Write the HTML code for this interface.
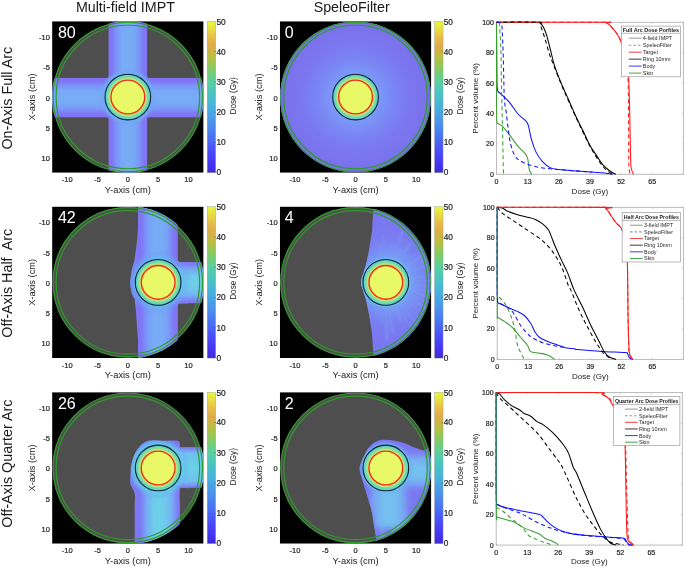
<!DOCTYPE html>
<html><head><meta charset="utf-8"><title>Dose comparison</title>
<style>html,body{margin:0;padding:0;background:#fff;}svg{display:block;will-change:transform;font-family:'Liberation Sans', sans-serif;}.t{stroke:#1a1a1a;stroke-width:0.18px;}</style>
</head><body>
<svg width="685" height="567" viewBox="0 0 685 567" fill="#1a1a1a">
<rect width="685" height="567" fill="#fff"/>
<defs><linearGradient id="cb" x1="0" y1="1" x2="0" y2="0"><stop offset="0" stop-color="#3c2cd0"/><stop offset="0.05" stop-color="#4632f2"/><stop offset="0.14" stop-color="#4a4cf8"/><stop offset="0.22" stop-color="#4a6cf4"/><stop offset="0.32" stop-color="#4a90ee"/><stop offset="0.42" stop-color="#48aee0"/><stop offset="0.52" stop-color="#48c4c4"/><stop offset="0.6" stop-color="#58d0a0"/><stop offset="0.68" stop-color="#80cc68"/><stop offset="0.76" stop-color="#b8c040"/><stop offset="0.84" stop-color="#e0ac48"/><stop offset="0.9" stop-color="#e8c048"/><stop offset="0.96" stop-color="#e8e440"/><stop offset="1" stop-color="#e8f840"/></linearGradient><linearGradient id="beamV" x1="0" y1="0" x2="1" y2="0"><stop offset="0" stop-color="#8270f4"/><stop offset="0.1" stop-color="#8078f6"/><stop offset="0.22" stop-color="#7a98f8"/><stop offset="0.34" stop-color="#78a8f8"/><stop offset="0.5" stop-color="#78aef4"/><stop offset="0.66" stop-color="#78a8f8"/><stop offset="0.78" stop-color="#7a98f8"/><stop offset="0.9" stop-color="#8078f6"/><stop offset="1" stop-color="#8270f4"/></linearGradient><linearGradient id="beamH" x1="0" y1="0" x2="0" y2="1"><stop offset="0" stop-color="#8270f4"/><stop offset="0.1" stop-color="#8078f6"/><stop offset="0.22" stop-color="#7a98f8"/><stop offset="0.34" stop-color="#78a8f8"/><stop offset="0.5" stop-color="#78aef4"/><stop offset="0.66" stop-color="#78a8f8"/><stop offset="0.78" stop-color="#7a98f8"/><stop offset="0.9" stop-color="#8078f6"/><stop offset="1" stop-color="#8270f4"/></linearGradient><linearGradient id="armV" x1="0" y1="0" x2="1" y2="0"><stop offset="0" stop-color="#8270f4"/><stop offset="0.08" stop-color="#7c86f6"/><stop offset="0.2" stop-color="#76b0f4"/><stop offset="0.35" stop-color="#70c8ec"/><stop offset="0.5" stop-color="#6cd2e8"/><stop offset="0.65" stop-color="#70c8ec"/><stop offset="0.8" stop-color="#76b0f4"/><stop offset="0.92" stop-color="#7c86f6"/><stop offset="1" stop-color="#8270f4"/></linearGradient><linearGradient id="armH" x1="0" y1="0" x2="0" y2="1"><stop offset="0" stop-color="#8270f4"/><stop offset="0.08" stop-color="#7c86f6"/><stop offset="0.2" stop-color="#76b0f4"/><stop offset="0.35" stop-color="#70c8ec"/><stop offset="0.5" stop-color="#6cd2e8"/><stop offset="0.65" stop-color="#70c8ec"/><stop offset="0.8" stop-color="#76b0f4"/><stop offset="0.92" stop-color="#7c86f6"/><stop offset="1" stop-color="#8270f4"/></linearGradient><radialGradient id="tglow" cx="0.5" cy="0.5" r="0.5"><stop offset="0" stop-color="#5cd0e0" stop-opacity="1"/><stop offset="0.72" stop-color="#5cd0e0" stop-opacity="1"/><stop offset="0.86" stop-color="#68c0f0" stop-opacity="0.7"/><stop offset="1" stop-color="#7898f6" stop-opacity="0"/></radialGradient><linearGradient id="armV2" x1="0" y1="0" x2="1" y2="0"><stop offset="0" stop-color="#8070f2"/><stop offset="0.06" stop-color="#7a90f6"/><stop offset="0.16" stop-color="#70c0f0"/><stop offset="0.5" stop-color="#68d2e6"/><stop offset="0.84" stop-color="#70c0f0"/><stop offset="0.94" stop-color="#7a90f6"/><stop offset="1" stop-color="#8070f2"/></linearGradient><linearGradient id="armH2" x1="0" y1="0" x2="0" y2="1"><stop offset="0" stop-color="#8070f2"/><stop offset="0.06" stop-color="#7a90f6"/><stop offset="0.16" stop-color="#70c0f0"/><stop offset="0.5" stop-color="#68d2e6"/><stop offset="0.84" stop-color="#70c0f0"/><stop offset="0.94" stop-color="#7a90f6"/><stop offset="1" stop-color="#8070f2"/></linearGradient><radialGradient id="tgt" cx="0.5" cy="0.5" r="0.5"><stop offset="0" stop-color="#e8f866"/><stop offset="0.74" stop-color="#e8f866"/><stop offset="0.78" stop-color="#c4ec6c"/><stop offset="0.85" stop-color="#90e092"/><stop offset="0.92" stop-color="#66d4c2"/><stop offset="1" stop-color="#58ccd8"/></radialGradient><radialGradient id="spf" cx="0.5" cy="0.5" r="0.5"><stop offset="0" stop-color="#78a4f8"/><stop offset="0.3" stop-color="#7a9af8"/><stop offset="0.5" stop-color="#7a86f4"/><stop offset="0.7" stop-color="#7a78f0"/><stop offset="1" stop-color="#7a70ec"/></radialGradient><radialGradient id="glow" cx="0.5" cy="0.5" r="0.5"><stop offset="0" stop-color="#50d0e0" stop-opacity="1"/><stop offset="0.62" stop-color="#58c8e8" stop-opacity="0.9"/><stop offset="0.8" stop-color="#64b0f4" stop-opacity="0.5"/><stop offset="1" stop-color="#7a86f6" stop-opacity="0"/></radialGradient><radialGradient id="glow2" cx="0.5" cy="0.5" r="0.5"><stop offset="0" stop-color="#6cc4f2" stop-opacity="0.95"/><stop offset="0.4" stop-color="#70b0f6" stop-opacity="0.7"/><stop offset="0.7" stop-color="#7898f6" stop-opacity="0.3"/><stop offset="1" stop-color="#7a86f6" stop-opacity="0"/></radialGradient><filter id="bl" x="-20%" y="-20%" width="140%" height="140%"><feGaussianBlur stdDeviation="1.2"/></filter><filter id="bl2" x="-20%" y="-20%" width="140%" height="140%"><feGaussianBlur stdDeviation="3"/></filter><clipPath id="body00"><circle cx="127.85" cy="97" r="75.2"/></clipPath><clipPath id="img00"><rect x="52.1" y="21.25" width="151.5" height="151.5"/></clipPath><clipPath id="body01"><circle cx="127.85" cy="282.35" r="75.2"/></clipPath><clipPath id="img01"><rect x="52.1" y="206.6" width="151.5" height="151.5"/></clipPath><clipPath id="body02"><circle cx="127.85" cy="467.95" r="75.2"/></clipPath><clipPath id="img02"><rect x="52.1" y="392.2" width="151.5" height="151.5"/></clipPath><clipPath id="body10"><circle cx="355.55" cy="97" r="75.2"/></clipPath><clipPath id="img10"><rect x="279.8" y="21.25" width="151.5" height="151.5"/></clipPath><clipPath id="body11"><circle cx="355.55" cy="282.35" r="75.2"/></clipPath><clipPath id="img11"><rect x="279.8" y="206.6" width="151.5" height="151.5"/></clipPath><clipPath id="body12"><circle cx="355.55" cy="467.95" r="75.2"/></clipPath><clipPath id="img12"><rect x="279.8" y="392.2" width="151.5" height="151.5"/></clipPath></defs>
<text x="125.4" y="11.7" font-size="14.25" text-anchor="middle">Multi-field IMPT</text>
<text x="351.7" y="11.7" font-size="14.25" text-anchor="middle">SpeleoFilter</text>
<text transform="translate(12.2 98.2) rotate(-90)" font-size="14.35" text-anchor="middle" xml:space="preserve">On-Axis Full Arc</text>
<text transform="translate(12.2 283.2) rotate(-90)" font-size="14.35" text-anchor="middle" xml:space="preserve">Off-Axis Half  Arc</text>
<text transform="translate(12.2 463.6) rotate(-90)" font-size="14.35" text-anchor="middle" xml:space="preserve">Off-Axis Quarter Arc</text>
<g clip-path="url(#img00)">
<rect x="52.1" y="21.25" width="151.5" height="151.5" fill="#000"/>
<circle cx="127.85" cy="97" r="75.2" fill="#4e4e4e"/>
<clipPath id="dz00"><path d="M108.35 17 L147.35 17 L147.35 76 L149.15 77.8 L207.85 77.8 L207.85 117.6 L149.15 117.6 L147.35 119.4 L147.35 177 L108.35 177 L108.35 119.4 L106.55 117.6 L47.85 117.6 L47.85 77.8 L106.55 77.8 L108.35 76 Z"/></clipPath>
<clipPath id="dr00"><circle cx="127.85" cy="97" r="76"/></clipPath>
<g clip-path="url(#dr00)"><g clip-path="url(#dz00)">
<rect x="108.35" y="17" width="39" height="160" fill="url(#beamV)"/><rect x="47.85" y="77.8" width="160" height="39.8" fill="url(#beamH)"/><g filter="url(#bl)"><circle cx="127.85" cy="97" r="26.5" fill="#74acf6"/><circle cx="127.85" cy="97" r="28.5" fill="url(#glow)" opacity="0.9"/></g>
</g></g>
<circle cx="127.85" cy="97" r="22.85" fill="url(#tgt)"/><circle cx="127.85" cy="97" r="16.9" fill="none" stroke="#f5261a" stroke-width="1.35"/><circle cx="127.85" cy="97" r="22.85" fill="none" stroke="#102028" stroke-width="1.05"/>
<circle cx="127.85" cy="97" r="74.7" fill="none" stroke="#2f9a2a" stroke-width="1.2"/>
<circle cx="127.85" cy="97" r="71.75" fill="none" stroke="#2f9a2a" stroke-width="1.2"/>
</g>
<text transform="translate(57.9 37.8) scale(0.95 1)" font-size="16.9" fill="#fff">80</text>
<g clip-path="url(#img10)">
<rect x="279.8" y="21.25" width="151.5" height="151.5" fill="#000"/>
<circle cx="355.55" cy="97" r="75.2" fill="#4e4e4e"/>
<clipPath id="dz10"><path d="M275.55 17 L435.55 17 L435.55 177 L275.55 177 Z"/></clipPath>
<clipPath id="dr10"><circle cx="355.55" cy="97" r="75.6"/></clipPath>
<g clip-path="url(#dr10)"><g clip-path="url(#dz10)">
<circle cx="355.55" cy="97" r="76" fill="url(#spf)"/>
</g></g>
<circle cx="355.55" cy="97" r="22.85" fill="url(#tgt)"/><circle cx="355.55" cy="97" r="16.9" fill="none" stroke="#f5261a" stroke-width="1.35"/><circle cx="355.55" cy="97" r="22.85" fill="none" stroke="#102028" stroke-width="1.05"/>
<circle cx="355.55" cy="97" r="74.7" fill="none" stroke="#2f9a2a" stroke-width="1.2"/>
<circle cx="355.55" cy="97" r="71.75" fill="none" stroke="#2f9a2a" stroke-width="1.2"/>
</g>
<text transform="translate(284.7 37.8) scale(0.95 1)" font-size="16.9" fill="#fff">0</text>
<g clip-path="url(#img01)">
<rect x="52.1" y="206.6" width="151.5" height="151.5" fill="#000"/>
<circle cx="127.85" cy="282.35" r="75.2" fill="#4e4e4e"/>
<clipPath id="dz01"><path d="M138.15 202.35 L138.15 222.35 L137.45 237.35 L136.05 248.85 L134.35 260.35 L131.75 270.05 L130.15 279.95 L130.15 284.65 L131.75 293.65 L134.65 299.35 L136.05 312.35 L137.05 327.35 L138.15 342.35 L138.15 362.35 L177.75 362.35 L177.75 304.85 L179.35 303.45 L207.85 303.45 L207.85 261.95 L179.35 261.95 L177.55 260.15 L177.55 202.35 Z"/></clipPath>
<clipPath id="dr01"><circle cx="127.85" cy="282.35" r="76.3"/></clipPath>
<g clip-path="url(#dr01)"><g clip-path="url(#dz01)">
<rect x="127.85" y="202.35" width="60" height="160" fill="#7c7af4"/><rect x="137.95" y="202.35" width="39.8" height="160" fill="url(#beamV)"/><rect x="174.85" y="261.95" width="40" height="41.5" fill="url(#armH)"/><g filter="url(#bl)"><circle cx="158.15" cy="282.35" r="33" fill="url(#glow)" opacity="1"/></g>
</g></g>
<circle cx="158.15" cy="282.35" r="22.85" fill="url(#tgt)"/><circle cx="158.15" cy="282.35" r="16.9" fill="none" stroke="#f5261a" stroke-width="1.35"/><circle cx="158.15" cy="282.35" r="22.85" fill="none" stroke="#102028" stroke-width="1.05"/>
<circle cx="127.85" cy="282.35" r="74.7" fill="none" stroke="#2f9a2a" stroke-width="1.2"/>
<circle cx="127.85" cy="282.35" r="71.75" fill="none" stroke="#2f9a2a" stroke-width="1.2"/>
</g>
<text transform="translate(57.9 223.15) scale(0.95 1)" font-size="16.9" fill="#fff">42</text>
<g clip-path="url(#img11)">
<rect x="279.8" y="206.6" width="151.5" height="151.5" fill="#000"/>
<circle cx="355.55" cy="282.35" r="75.2" fill="#4e4e4e"/>
<clipPath id="dz11"><path d="M373.35 202.35 L373.35 209.45 L371.95 231.15 L369.05 249.95 L366.15 264.35 L361.05 280.35 L361.05 284.35 L366.15 300.35 L369.05 314.75 L371.95 333.55 L373.35 355.25 L373.35 362.35 L435.55 362.35 L435.55 202.35 Z"/></clipPath>
<clipPath id="dr11"><circle cx="355.55" cy="282.35" r="75.8"/></clipPath>
<g clip-path="url(#dr11)"><g clip-path="url(#dz11)">
<rect x="355.55" y="202.35" width="80" height="160" fill="#7a78f0"/><circle cx="385.85" cy="282.35" r="56" fill="url(#glow2)" opacity="1"/><circle cx="385.85" cy="282.35" r="40" fill="url(#glow2)" opacity="0.6"/><g filter="url(#bl)" fill="#80b4f8"><path d="M385.85 282.35 L377.77 243.2 L380.05 242.8 Z" opacity="0.25"/><path d="M385.85 282.35 L381.83 234.13 L384.8 233.97 Z" opacity="0.19"/><path d="M385.85 282.35 L387.05 247.57 L389.51 247.74 Z" opacity="0.23"/><path d="M385.85 282.35 L391.93 242.93 L394.98 243.52 Z" opacity="0.26"/><path d="M385.85 282.35 L401.05 230.81 L403.85 231.72 Z" opacity="0.3"/><path d="M385.85 282.35 L400.82 247.46 L402.95 248.46 Z" opacity="0.34"/><path d="M385.85 282.35 L409.18 242.09 L411.81 243.73 Z" opacity="0.3"/><path d="M385.85 282.35 L407.53 253.65 L409.42 255.17 Z" opacity="0.29"/><path d="M385.85 282.35 L415.14 253.06 L416.15 254.1 Z" opacity="0.34"/><path d="M385.85 282.35 L421.17 253.87 L422.96 256.25 Z" opacity="0.34"/><path d="M385.85 282.35 L428.97 255.26 L430.87 258.55 Z" opacity="0.25"/><path d="M385.85 282.35 L433.99 260.38 L435.1 262.98 Z" opacity="0.35"/><path d="M385.85 282.35 L438.15 266.28 L438.72 268.27 Z" opacity="0.2"/><path d="M385.85 282.35 L424.59 274.68 L425.06 277.67 Z" opacity="0.26"/><path d="M385.85 282.35 L434.68 279.5 L434.76 281.79 Z" opacity="0.27"/><path d="M385.85 282.35 L429.14 285.07 L428.95 287.19 Z" opacity="0.29"/><path d="M385.85 282.35 L433.08 290.58 L432.34 294.04 Z" opacity="0.3"/><path d="M385.85 282.35 L439.29 298.63 L437.99 302.42 Z" opacity="0.36"/><path d="M385.85 282.35 L431.17 303.32 L430.28 305.15 Z" opacity="0.33"/><path d="M385.85 282.35 L434.5 311.45 L432.22 314.96 Z" opacity="0.28"/><path d="M385.85 282.35 L425.55 314.23 L424.14 315.91 Z" opacity="0.33"/><path d="M385.85 282.35 L419.17 316.47 L417.56 317.97 Z" opacity="0.19"/><path d="M385.85 282.35 L419.35 324.88 L415.95 327.35 Z" opacity="0.2"/><path d="M385.85 282.35 L412.69 327.95 L410.29 329.28 Z" opacity="0.21"/><path d="M385.85 282.35 L402.59 320.06 L400 321.11 Z" opacity="0.34"/><path d="M385.85 282.35 L396.08 316.36 L393.99 316.92 Z" opacity="0.19"/><path d="M385.85 282.35 L394.17 332.69 L391.73 333.03 Z" opacity="0.34"/><path d="M385.85 282.35 L388.45 339.35 L385.25 339.4 Z" opacity="0.36"/><path d="M385.85 282.35 L382.26 323.82 L380.74 323.66 Z" opacity="0.29"/></g><circle cx="385.85" cy="282.35" r="27.5" fill="url(#tglow)" opacity="1"/>
</g></g>
<circle cx="385.85" cy="282.35" r="22.85" fill="url(#tgt)"/><circle cx="385.85" cy="282.35" r="16.9" fill="none" stroke="#f5261a" stroke-width="1.35"/><circle cx="385.85" cy="282.35" r="22.85" fill="none" stroke="#102028" stroke-width="1.05"/>
<circle cx="355.55" cy="282.35" r="74.7" fill="none" stroke="#2f9a2a" stroke-width="1.2"/>
<circle cx="355.55" cy="282.35" r="71.75" fill="none" stroke="#2f9a2a" stroke-width="1.2"/>
</g>
<text transform="translate(284.7 223.15) scale(0.95 1)" font-size="16.9" fill="#fff">4</text>
<g clip-path="url(#img02)">
<rect x="52.1" y="392.2" width="151.5" height="151.5" fill="#000"/>
<circle cx="127.85" cy="467.95" r="75.2" fill="#4e4e4e"/>
<clipPath id="dz02"><path d="M134.65 547.95 C134.65 541.28 134.65 517.03 134.65 507.95 C134.65 498.87 135.37 497.45 134.65 493.45 C133.93 489.45 131.02 487.2 130.35 483.95 C129.68 480.7 130.52 476.98 130.65 473.95 C130.78 470.92 130.62 468.75 131.15 465.75 C131.68 462.75 132.57 459 133.85 455.95 C135.13 452.9 136.6 449.95 138.85 447.45 C141.1 444.95 143.35 442.08 147.35 440.95 C151.35 439.82 157.68 440.65 162.85 440.65 C168.02 440.65 175.43 439.9 178.35 440.95 C181.27 442 178.77 445.93 180.35 446.95 C181.93 447.97 183.27 447.03 187.85 447.05 C192.43 447.07 204.52 440.25 207.85 447.05 C211.18 453.85 211.85 481.05 207.85 487.85 C203.85 494.65 188.52 487.5 183.85 487.85 C179.18 488.2 180.52 486.6 179.85 489.95 C179.18 493.3 179.85 498.28 179.85 507.95 C179.85 517.62 179.85 541.28 179.85 547.95 Z"/></clipPath>
<clipPath id="dr02"><circle cx="127.85" cy="467.95" r="76.3"/></clipPath>
<g clip-path="url(#dr02)"><g clip-path="url(#dz02)">
<rect x="127.85" y="387.95" width="60" height="160" fill="#7c78f2"/><rect x="138.85" y="467.95" width="40.9" height="80" fill="url(#armV)"/><rect x="158.15" y="447.05" width="50" height="40.8" fill="url(#armH2)"/><circle cx="158.15" cy="467.95" r="31" fill="url(#tglow)" opacity="1"/>
</g></g>
<circle cx="158.15" cy="467.95" r="22.85" fill="url(#tgt)"/><circle cx="158.15" cy="467.95" r="16.9" fill="none" stroke="#f5261a" stroke-width="1.35"/><circle cx="158.15" cy="467.95" r="22.85" fill="none" stroke="#102028" stroke-width="1.05"/>
<circle cx="127.85" cy="467.95" r="74.7" fill="none" stroke="#2f9a2a" stroke-width="1.2"/>
<circle cx="127.85" cy="467.95" r="71.75" fill="none" stroke="#2f9a2a" stroke-width="1.2"/>
</g>
<text transform="translate(57.9 408.75) scale(0.95 1)" font-size="16.9" fill="#fff">26</text>
<g clip-path="url(#img12)">
<rect x="279.8" y="392.2" width="151.5" height="151.5" fill="#000"/>
<circle cx="355.55" cy="467.95" r="75.2" fill="#4e4e4e"/>
<clipPath id="dz12"><path d="M373.05 443.15 C374.55 442.6 378.62 440.28 382.05 439.85 C385.48 439.42 389.78 439.95 393.65 440.55 C397.52 441.15 401.65 442.23 405.25 443.45 C408.85 444.67 412.12 446.65 415.25 447.85 C418.38 449.05 420.67 450.05 424.05 450.65 C427.43 451.25 433.63 435.23 435.55 451.45 C437.47 467.67 445.47 531.87 435.55 547.95 C425.63 564.03 385.97 549.4 376.05 547.95 C366.13 546.5 376.38 542.92 376.05 539.25 C375.72 535.58 374.82 530.8 374.05 525.95 C373.28 521.1 372.55 514.98 371.45 510.15 C370.35 505.32 368.78 501.37 367.45 496.95 C366.12 492.53 364.77 488.23 363.45 483.65 C362.13 479.07 359.78 473.4 359.55 469.45 C359.32 465.5 360.72 463.37 362.05 459.95 C363.38 456.53 366.63 450.78 367.55 448.95 Z"/></clipPath>
<clipPath id="dr12"><circle cx="355.55" cy="467.95" r="75.8"/></clipPath>
<g clip-path="url(#dr12)"><g clip-path="url(#dz12)">
<rect x="355.55" y="387.95" width="80" height="160" fill="#7a78f0"/><g filter="url(#bl2)" opacity="0.9"><rect x="390.85" y="450.95" width="40" height="40" fill="url(#armH)"/><path d="M366.85 467.95 L402.85 467.95 L411.85 527.95 L373.85 527.95 Z" fill="url(#armV)"/></g><g filter="url(#bl)" fill="#80b4f8"><path d="M385.85 467.95 L449.06 449.65 L450.26 454.43 Z" opacity="0.43"/><path d="M385.85 467.95 L460.14 453.31 L461.02 458.91 Z" opacity="0.46"/><path d="M385.85 467.95 L433.01 463.2 L433.21 466.09 Z" opacity="0.47"/><path d="M385.85 467.95 L452.41 465.19 L452.41 470.71 Z" opacity="0.27"/><path d="M385.85 467.95 L446.83 470.68 L446.62 473.73 Z" opacity="0.37"/><path d="M385.85 467.95 L449.68 475.68 L449.33 478.12 Z" opacity="0.29"/><path d="M385.85 467.95 L440.24 477.15 L439.28 481.67 Z" opacity="0.42"/><path d="M385.85 467.95 L435.6 481.07 L434.43 484.89 Z" opacity="0.27"/><path d="M385.85 467.95 L411.77 528.25 L409.09 529.34 Z" opacity="0.24"/><path d="M385.85 467.95 L409.03 537.71 L405.64 538.75 Z" opacity="0.29"/><path d="M385.85 467.95 L404.91 542.51 L398.77 543.81 Z" opacity="0.31"/><path d="M385.85 467.95 L397.6 543.35 L392.69 543.95 Z" opacity="0.4"/><path d="M385.85 467.95 L389.94 520.64 L385.45 520.8 Z" opacity="0.41"/><path d="M385.85 467.95 L385.01 544.41 L378.7 544.08 Z" opacity="0.31"/><path d="M385.85 467.95 L379.14 525.26 L376.51 524.89 Z" opacity="0.27"/><path d="M385.85 467.95 L376.19 515.5 L373.69 514.92 Z" opacity="0.38"/><path d="M385.85 467.95 L373.05 512.76 L369.87 511.73 Z" opacity="0.32"/><path d="M385.85 467.95 L365.98 520.42 L361.91 518.69 Z" opacity="0.36"/></g><circle cx="385.85" cy="467.95" r="27.5" fill="url(#tglow)" opacity="1"/>
</g></g>
<circle cx="385.85" cy="467.95" r="22.85" fill="url(#tgt)"/><circle cx="385.85" cy="467.95" r="16.9" fill="none" stroke="#f5261a" stroke-width="1.35"/><circle cx="385.85" cy="467.95" r="22.85" fill="none" stroke="#102028" stroke-width="1.05"/>
<circle cx="355.55" cy="467.95" r="74.7" fill="none" stroke="#2f9a2a" stroke-width="1.2"/>
<circle cx="355.55" cy="467.95" r="71.75" fill="none" stroke="#2f9a2a" stroke-width="1.2"/>
</g>
<text transform="translate(284.7 408.75) scale(0.95 1)" font-size="16.9" fill="#fff">2</text>
<text x="49.9" y="39.9" font-size="7.5" text-anchor="end" class="t">-10</text>
<text x="49.9" y="70.2" font-size="7.5" text-anchor="end" class="t">-5</text>
<text x="49.9" y="100.5" font-size="7.5" text-anchor="end" class="t">0</text>
<text x="49.9" y="130.8" font-size="7.5" text-anchor="end" class="t">5</text>
<text x="49.9" y="161.1" font-size="7.5" text-anchor="end" class="t">10</text>
<text x="67.25" y="182.35" font-size="7.5" text-anchor="middle" class="t">-10</text>
<text x="97.55" y="182.35" font-size="7.5" text-anchor="middle" class="t">-5</text>
<text x="127.85" y="182.35" font-size="7.5" text-anchor="middle" class="t">0</text>
<text x="158.15" y="182.35" font-size="7.5" text-anchor="middle" class="t">5</text>
<text x="188.45" y="182.35" font-size="7.5" text-anchor="middle" class="t">10</text>
<text x="127.85" y="192.7" font-size="9.3" text-anchor="middle">Y-axis (cm)</text>
<text transform="translate(34.7 97) rotate(-90)" font-size="9.3" text-anchor="middle">X-axis (cm)</text>
<rect x="207.2" y="21.25" width="8.5" height="151.5" fill="url(#cb)" stroke="#999" stroke-width="0.4"/>
<text x="216.4" y="175.2" font-size="8.3" class="t">0</text>
<line x1="214.2" y1="142.45" x2="215.7" y2="142.45" stroke="#555" stroke-width="0.5"/>
<text x="216.4" y="145.4" font-size="8.3" class="t">10</text>
<line x1="214.2" y1="112.15" x2="215.7" y2="112.15" stroke="#555" stroke-width="0.5"/>
<text x="216.4" y="115.1" font-size="8.3" class="t">20</text>
<line x1="214.2" y1="81.85" x2="215.7" y2="81.85" stroke="#555" stroke-width="0.5"/>
<text x="216.4" y="84.8" font-size="8.3" class="t">30</text>
<line x1="214.2" y1="51.55" x2="215.7" y2="51.55" stroke="#555" stroke-width="0.5"/>
<text x="216.4" y="54.5" font-size="8.3" class="t">40</text>
<text x="216.4" y="24.8" font-size="8.3" class="t">50</text>
<text transform="translate(235.55 95.8) rotate(-90)" font-size="8.2" text-anchor="middle">Dose (Gy)</text>
<text x="49.9" y="225.25" font-size="7.5" text-anchor="end" class="t">-10</text>
<text x="49.9" y="255.55" font-size="7.5" text-anchor="end" class="t">-5</text>
<text x="49.9" y="285.85" font-size="7.5" text-anchor="end" class="t">0</text>
<text x="49.9" y="316.15" font-size="7.5" text-anchor="end" class="t">5</text>
<text x="49.9" y="346.45" font-size="7.5" text-anchor="end" class="t">10</text>
<text x="67.25" y="367.7" font-size="7.5" text-anchor="middle" class="t">-10</text>
<text x="97.55" y="367.7" font-size="7.5" text-anchor="middle" class="t">-5</text>
<text x="127.85" y="367.7" font-size="7.5" text-anchor="middle" class="t">0</text>
<text x="158.15" y="367.7" font-size="7.5" text-anchor="middle" class="t">5</text>
<text x="188.45" y="367.7" font-size="7.5" text-anchor="middle" class="t">10</text>
<text x="127.85" y="378.05" font-size="9.3" text-anchor="middle">Y-axis (cm)</text>
<text transform="translate(34.7 282.35) rotate(-90)" font-size="9.3" text-anchor="middle">X-axis (cm)</text>
<rect x="207.2" y="206.6" width="8.5" height="151.5" fill="url(#cb)" stroke="#999" stroke-width="0.4"/>
<text x="216.4" y="360.55" font-size="8.3" class="t">0</text>
<line x1="214.2" y1="327.8" x2="215.7" y2="327.8" stroke="#555" stroke-width="0.5"/>
<text x="216.4" y="330.75" font-size="8.3" class="t">10</text>
<line x1="214.2" y1="297.5" x2="215.7" y2="297.5" stroke="#555" stroke-width="0.5"/>
<text x="216.4" y="300.45" font-size="8.3" class="t">20</text>
<line x1="214.2" y1="267.2" x2="215.7" y2="267.2" stroke="#555" stroke-width="0.5"/>
<text x="216.4" y="270.15" font-size="8.3" class="t">30</text>
<line x1="214.2" y1="236.9" x2="215.7" y2="236.9" stroke="#555" stroke-width="0.5"/>
<text x="216.4" y="239.85" font-size="8.3" class="t">40</text>
<text x="216.4" y="210.15" font-size="8.3" class="t">50</text>
<text transform="translate(235.55 281.15) rotate(-90)" font-size="8.2" text-anchor="middle">Dose (Gy)</text>
<text x="49.9" y="410.85" font-size="7.5" text-anchor="end" class="t">-10</text>
<text x="49.9" y="441.15" font-size="7.5" text-anchor="end" class="t">-5</text>
<text x="49.9" y="471.45" font-size="7.5" text-anchor="end" class="t">0</text>
<text x="49.9" y="501.75" font-size="7.5" text-anchor="end" class="t">5</text>
<text x="49.9" y="532.05" font-size="7.5" text-anchor="end" class="t">10</text>
<text x="67.25" y="553.3" font-size="7.5" text-anchor="middle" class="t">-10</text>
<text x="97.55" y="553.3" font-size="7.5" text-anchor="middle" class="t">-5</text>
<text x="127.85" y="553.3" font-size="7.5" text-anchor="middle" class="t">0</text>
<text x="158.15" y="553.3" font-size="7.5" text-anchor="middle" class="t">5</text>
<text x="188.45" y="553.3" font-size="7.5" text-anchor="middle" class="t">10</text>
<text x="127.85" y="563.65" font-size="9.3" text-anchor="middle">Y-axis (cm)</text>
<text transform="translate(34.7 467.95) rotate(-90)" font-size="9.3" text-anchor="middle">X-axis (cm)</text>
<rect x="207.2" y="392.2" width="8.5" height="151.5" fill="url(#cb)" stroke="#999" stroke-width="0.4"/>
<text x="216.4" y="546.15" font-size="8.3" class="t">0</text>
<line x1="214.2" y1="513.4" x2="215.7" y2="513.4" stroke="#555" stroke-width="0.5"/>
<text x="216.4" y="516.35" font-size="8.3" class="t">10</text>
<line x1="214.2" y1="483.1" x2="215.7" y2="483.1" stroke="#555" stroke-width="0.5"/>
<text x="216.4" y="486.05" font-size="8.3" class="t">20</text>
<line x1="214.2" y1="452.8" x2="215.7" y2="452.8" stroke="#555" stroke-width="0.5"/>
<text x="216.4" y="455.75" font-size="8.3" class="t">30</text>
<line x1="214.2" y1="422.5" x2="215.7" y2="422.5" stroke="#555" stroke-width="0.5"/>
<text x="216.4" y="425.45" font-size="8.3" class="t">40</text>
<text x="216.4" y="395.75" font-size="8.3" class="t">50</text>
<text transform="translate(235.55 466.75) rotate(-90)" font-size="8.2" text-anchor="middle">Dose (Gy)</text>
<text x="277.6" y="39.9" font-size="7.5" text-anchor="end" class="t">-10</text>
<text x="277.6" y="70.2" font-size="7.5" text-anchor="end" class="t">-5</text>
<text x="277.6" y="100.5" font-size="7.5" text-anchor="end" class="t">0</text>
<text x="277.6" y="130.8" font-size="7.5" text-anchor="end" class="t">5</text>
<text x="277.6" y="161.1" font-size="7.5" text-anchor="end" class="t">10</text>
<text x="294.95" y="182.35" font-size="7.5" text-anchor="middle" class="t">-10</text>
<text x="325.25" y="182.35" font-size="7.5" text-anchor="middle" class="t">-5</text>
<text x="355.55" y="182.35" font-size="7.5" text-anchor="middle" class="t">0</text>
<text x="385.85" y="182.35" font-size="7.5" text-anchor="middle" class="t">5</text>
<text x="416.15" y="182.35" font-size="7.5" text-anchor="middle" class="t">10</text>
<text x="355.55" y="192.7" font-size="9.3" text-anchor="middle">Y-axis (cm)</text>
<text transform="translate(262.4 97) rotate(-90)" font-size="9.3" text-anchor="middle">X-axis (cm)</text>
<rect x="434.55" y="21.25" width="8.5" height="151.5" fill="url(#cb)" stroke="#999" stroke-width="0.4"/>
<text x="443.75" y="175.2" font-size="8.3" class="t">0</text>
<line x1="441.55" y1="142.45" x2="443.05" y2="142.45" stroke="#555" stroke-width="0.5"/>
<text x="443.75" y="145.4" font-size="8.3" class="t">10</text>
<line x1="441.55" y1="112.15" x2="443.05" y2="112.15" stroke="#555" stroke-width="0.5"/>
<text x="443.75" y="115.1" font-size="8.3" class="t">20</text>
<line x1="441.55" y1="81.85" x2="443.05" y2="81.85" stroke="#555" stroke-width="0.5"/>
<text x="443.75" y="84.8" font-size="8.3" class="t">30</text>
<line x1="441.55" y1="51.55" x2="443.05" y2="51.55" stroke="#555" stroke-width="0.5"/>
<text x="443.75" y="54.5" font-size="8.3" class="t">40</text>
<text x="443.75" y="24.8" font-size="8.3" class="t">50</text>
<text transform="translate(462.9 95.8) rotate(-90)" font-size="8.2" text-anchor="middle">Dose (Gy)</text>
<text x="277.6" y="225.25" font-size="7.5" text-anchor="end" class="t">-10</text>
<text x="277.6" y="255.55" font-size="7.5" text-anchor="end" class="t">-5</text>
<text x="277.6" y="285.85" font-size="7.5" text-anchor="end" class="t">0</text>
<text x="277.6" y="316.15" font-size="7.5" text-anchor="end" class="t">5</text>
<text x="277.6" y="346.45" font-size="7.5" text-anchor="end" class="t">10</text>
<text x="294.95" y="367.7" font-size="7.5" text-anchor="middle" class="t">-10</text>
<text x="325.25" y="367.7" font-size="7.5" text-anchor="middle" class="t">-5</text>
<text x="355.55" y="367.7" font-size="7.5" text-anchor="middle" class="t">0</text>
<text x="385.85" y="367.7" font-size="7.5" text-anchor="middle" class="t">5</text>
<text x="416.15" y="367.7" font-size="7.5" text-anchor="middle" class="t">10</text>
<text x="355.55" y="378.05" font-size="9.3" text-anchor="middle">Y-axis (cm)</text>
<text transform="translate(262.4 282.35) rotate(-90)" font-size="9.3" text-anchor="middle">X-axis (cm)</text>
<rect x="434.55" y="206.6" width="8.5" height="151.5" fill="url(#cb)" stroke="#999" stroke-width="0.4"/>
<text x="443.75" y="360.55" font-size="8.3" class="t">0</text>
<line x1="441.55" y1="327.8" x2="443.05" y2="327.8" stroke="#555" stroke-width="0.5"/>
<text x="443.75" y="330.75" font-size="8.3" class="t">10</text>
<line x1="441.55" y1="297.5" x2="443.05" y2="297.5" stroke="#555" stroke-width="0.5"/>
<text x="443.75" y="300.45" font-size="8.3" class="t">20</text>
<line x1="441.55" y1="267.2" x2="443.05" y2="267.2" stroke="#555" stroke-width="0.5"/>
<text x="443.75" y="270.15" font-size="8.3" class="t">30</text>
<line x1="441.55" y1="236.9" x2="443.05" y2="236.9" stroke="#555" stroke-width="0.5"/>
<text x="443.75" y="239.85" font-size="8.3" class="t">40</text>
<text x="443.75" y="210.15" font-size="8.3" class="t">50</text>
<text transform="translate(462.9 281.15) rotate(-90)" font-size="8.2" text-anchor="middle">Dose (Gy)</text>
<text x="277.6" y="410.85" font-size="7.5" text-anchor="end" class="t">-10</text>
<text x="277.6" y="441.15" font-size="7.5" text-anchor="end" class="t">-5</text>
<text x="277.6" y="471.45" font-size="7.5" text-anchor="end" class="t">0</text>
<text x="277.6" y="501.75" font-size="7.5" text-anchor="end" class="t">5</text>
<text x="277.6" y="532.05" font-size="7.5" text-anchor="end" class="t">10</text>
<text x="294.95" y="553.3" font-size="7.5" text-anchor="middle" class="t">-10</text>
<text x="325.25" y="553.3" font-size="7.5" text-anchor="middle" class="t">-5</text>
<text x="355.55" y="553.3" font-size="7.5" text-anchor="middle" class="t">0</text>
<text x="385.85" y="553.3" font-size="7.5" text-anchor="middle" class="t">5</text>
<text x="416.15" y="553.3" font-size="7.5" text-anchor="middle" class="t">10</text>
<text x="355.55" y="563.65" font-size="9.3" text-anchor="middle">Y-axis (cm)</text>
<text transform="translate(262.4 467.95) rotate(-90)" font-size="9.3" text-anchor="middle">X-axis (cm)</text>
<rect x="434.55" y="392.2" width="8.5" height="151.5" fill="url(#cb)" stroke="#999" stroke-width="0.4"/>
<text x="443.75" y="546.15" font-size="8.3" class="t">0</text>
<line x1="441.55" y1="513.4" x2="443.05" y2="513.4" stroke="#555" stroke-width="0.5"/>
<text x="443.75" y="516.35" font-size="8.3" class="t">10</text>
<line x1="441.55" y1="483.1" x2="443.05" y2="483.1" stroke="#555" stroke-width="0.5"/>
<text x="443.75" y="486.05" font-size="8.3" class="t">20</text>
<line x1="441.55" y1="452.8" x2="443.05" y2="452.8" stroke="#555" stroke-width="0.5"/>
<text x="443.75" y="455.75" font-size="8.3" class="t">30</text>
<line x1="441.55" y1="422.5" x2="443.05" y2="422.5" stroke="#555" stroke-width="0.5"/>
<text x="443.75" y="425.45" font-size="8.3" class="t">40</text>
<text x="443.75" y="395.75" font-size="8.3" class="t">50</text>
<text transform="translate(462.9 466.75) rotate(-90)" font-size="8.2" text-anchor="middle">Dose (Gy)</text>
<rect x="496.5" y="22.3" width="186.9" height="152" fill="none" stroke="#b4b4b4" stroke-width="0.9"/>
<line x1="496.5" y1="174.3" x2="496.5" y2="172.7" stroke="#b4b4b4" stroke-width="0.6"/>
<line x1="496.5" y1="22.3" x2="496.5" y2="23.9" stroke="#b4b4b4" stroke-width="0.6"/>
<text x="496.5" y="183.95" font-size="7" text-anchor="middle" class="t">0</text>
<line x1="527.65" y1="174.3" x2="527.65" y2="172.7" stroke="#b4b4b4" stroke-width="0.6"/>
<line x1="527.65" y1="22.3" x2="527.65" y2="23.9" stroke="#b4b4b4" stroke-width="0.6"/>
<text x="527.65" y="183.95" font-size="7" text-anchor="middle" class="t">13</text>
<line x1="558.8" y1="174.3" x2="558.8" y2="172.7" stroke="#b4b4b4" stroke-width="0.6"/>
<line x1="558.8" y1="22.3" x2="558.8" y2="23.9" stroke="#b4b4b4" stroke-width="0.6"/>
<text x="558.8" y="183.95" font-size="7" text-anchor="middle" class="t">26</text>
<line x1="589.95" y1="174.3" x2="589.95" y2="172.7" stroke="#b4b4b4" stroke-width="0.6"/>
<line x1="589.95" y1="22.3" x2="589.95" y2="23.9" stroke="#b4b4b4" stroke-width="0.6"/>
<text x="589.95" y="183.95" font-size="7" text-anchor="middle" class="t">39</text>
<line x1="621.1" y1="174.3" x2="621.1" y2="172.7" stroke="#b4b4b4" stroke-width="0.6"/>
<line x1="621.1" y1="22.3" x2="621.1" y2="23.9" stroke="#b4b4b4" stroke-width="0.6"/>
<text x="621.1" y="183.95" font-size="7" text-anchor="middle" class="t">52</text>
<line x1="652.25" y1="174.3" x2="652.25" y2="172.7" stroke="#b4b4b4" stroke-width="0.6"/>
<line x1="652.25" y1="22.3" x2="652.25" y2="23.9" stroke="#b4b4b4" stroke-width="0.6"/>
<text x="652.25" y="183.95" font-size="7" text-anchor="middle" class="t">65</text>
<line x1="496.5" y1="174.3" x2="498.1" y2="174.3" stroke="#b4b4b4" stroke-width="0.6"/>
<line x1="683.4" y1="174.3" x2="681.8" y2="174.3" stroke="#b4b4b4" stroke-width="0.6"/>
<text x="493.9" y="176.8" font-size="7" text-anchor="end" class="t">0</text>
<line x1="496.5" y1="143.9" x2="498.1" y2="143.9" stroke="#b4b4b4" stroke-width="0.6"/>
<line x1="683.4" y1="143.9" x2="681.8" y2="143.9" stroke="#b4b4b4" stroke-width="0.6"/>
<text x="493.9" y="146.4" font-size="7" text-anchor="end" class="t">20</text>
<line x1="496.5" y1="113.5" x2="498.1" y2="113.5" stroke="#b4b4b4" stroke-width="0.6"/>
<line x1="683.4" y1="113.5" x2="681.8" y2="113.5" stroke="#b4b4b4" stroke-width="0.6"/>
<text x="493.9" y="116" font-size="7" text-anchor="end" class="t">40</text>
<line x1="496.5" y1="83.1" x2="498.1" y2="83.1" stroke="#b4b4b4" stroke-width="0.6"/>
<line x1="683.4" y1="83.1" x2="681.8" y2="83.1" stroke="#b4b4b4" stroke-width="0.6"/>
<text x="493.9" y="85.6" font-size="7" text-anchor="end" class="t">60</text>
<line x1="496.5" y1="52.7" x2="498.1" y2="52.7" stroke="#b4b4b4" stroke-width="0.6"/>
<line x1="683.4" y1="52.7" x2="681.8" y2="52.7" stroke="#b4b4b4" stroke-width="0.6"/>
<text x="493.9" y="55.2" font-size="7" text-anchor="end" class="t">80</text>
<line x1="496.5" y1="22.3" x2="498.1" y2="22.3" stroke="#b4b4b4" stroke-width="0.6"/>
<line x1="683.4" y1="22.3" x2="681.8" y2="22.3" stroke="#b4b4b4" stroke-width="0.6"/>
<text x="493.9" y="24.8" font-size="7" text-anchor="end" class="t">100</text>
<text x="589.95" y="193.6" font-size="8.05" text-anchor="middle">Dose (Gy)</text>
<text transform="translate(478.4 98.3) rotate(-90)" font-size="8.05" text-anchor="middle">Percent volume (%)</text>
<g fill="none" stroke-width="1.05" stroke-linejoin="round">
<path d="M496.5 22.3 C496.54 27.37 496.66 42.57 496.74 52.7 C496.82 62.83 496.86 77.02 496.98 83.1 C497.1 89.18 497.22 87.71 497.46 89.18 C497.7 90.65 497.58 90.9 498.42 91.92 C499.26 92.93 500.61 93.49 502.49 95.26 C504.37 97.03 507.16 99.52 509.68 102.56 C512.19 105.6 514.87 110.41 517.59 113.5 C520.3 116.59 524.18 119.07 525.97 121.1 C527.77 123.13 527.45 122.57 528.37 125.66 C529.29 128.75 530.21 135.24 531.48 139.64 C532.76 144.05 534.24 148.49 536.04 152.11 C537.83 155.73 539.91 158.8 542.27 161.38 C544.62 163.96 547.42 166.27 550.17 167.61 C552.93 168.95 553.77 168.83 558.8 169.44 C563.83 170.04 573.18 170.7 580.37 171.26 C587.55 171.82 596.54 172.27 601.93 172.78 C607.32 173.29 610.92 174.05 612.71 174.3" stroke="#1010ff"/>
<path d="M496.5 22.3 C496.5 32.43 496.46 66.89 496.5 83.1 C496.54 99.31 496.5 112.87 496.74 119.58 C496.98 126.29 496.98 122.24 497.94 123.38 C498.9 124.52 500.53 124.47 502.49 126.42 C504.45 128.37 507.16 131.84 509.68 135.08 C512.19 138.33 514.99 142.79 517.59 145.88 C520.18 148.97 523.58 151.55 525.25 153.63 C526.93 155.71 527.09 156.41 527.65 158.34 C528.21 160.27 528.29 163.15 528.61 165.18 C528.93 167.21 529.09 168.98 529.57 170.5 C530.05 172.02 531.16 173.67 531.48 174.3" stroke="#3c9c34"/>
<path d="M496.5 22.3 C503.29 22.3 529.93 22.12 537.23 22.3 C544.54 22.48 539.35 22.6 540.35 23.36 C541.35 24.12 542.23 25.01 543.23 26.86 C544.22 28.71 545.14 30.66 546.34 34.46 C547.54 38.26 549.06 44.47 550.41 49.66 C551.77 54.85 552.69 60.05 554.49 65.62 C556.28 71.19 558.84 77.4 561.2 83.1 C563.55 88.8 566.23 94.37 568.62 99.82 C571.02 105.27 573.18 110.61 575.57 115.78 C577.97 120.95 580.6 125.89 583 130.83 C585.4 135.77 587.59 141.16 589.95 145.42 C592.31 149.68 595.14 153.32 597.14 156.36 C599.14 159.4 600.49 161.79 601.93 163.66 C603.37 165.53 604.37 166.35 605.76 167.61 C607.16 168.88 608.92 170.27 610.32 171.26 C611.72 172.25 613.23 173.03 614.15 173.54 C615.07 174.05 615.55 174.17 615.83 174.3" stroke="#000000"/>
<path d="M496.5 22.3 C514.07 22.3 583.76 22.25 601.93 22.3 C620.1 22.35 604.33 22.22 605.52 22.6 C606.72 22.98 607.92 23.62 609.12 24.58 C610.32 25.54 611.52 26.99 612.71 28.38 C613.91 29.77 615.11 31.17 616.31 32.94 C617.51 34.71 618.7 36.23 619.9 39.02 C621.1 41.81 622.3 45.35 623.5 49.66 C624.69 53.97 626.21 59.79 627.09 64.86 C627.97 69.93 628.33 71.95 628.77 80.06 C629.21 88.17 629.41 100.07 629.73 113.5 C630.05 126.93 630.37 151.25 630.68 160.62 C631 169.99 631.16 167.46 631.64 169.74 C632.12 172.02 633.24 173.54 633.56 174.3" stroke="#ff1a1a"/>
<path d="M496.5 22.3 C514.07 22.3 583.76 22.25 601.93 22.3 C620.1 22.35 604.33 22.22 605.52 22.6 C606.72 22.98 607.92 23.62 609.12 24.58 C610.32 25.54 611.52 26.99 612.71 28.38 C613.91 29.77 615.11 31.17 616.31 32.94 C617.51 34.71 618.7 36.23 619.9 39.02 C621.1 41.81 622.42 45.35 623.5 49.66 C624.57 53.97 625.61 59.79 626.37 64.86 C627.13 69.93 627.69 71.95 628.05 80.06 C628.41 88.17 628.41 100.07 628.53 113.5 C628.65 126.93 628.61 150.99 628.77 160.62 C628.93 170.25 629.17 168.98 629.49 171.26 C629.81 173.54 630.48 173.79 630.68 174.3" stroke="#ff1a1a" stroke-dasharray="4 3"/>
<path d="M496.5 22.3 C503.41 22.3 530.57 21.62 537.95 22.3 C545.34 22.98 539.63 23.57 540.83 26.4 C542.03 29.24 543.74 34.81 545.14 39.32 C546.54 43.83 547.82 49.2 549.22 53.46 C550.61 57.72 551.61 59.92 553.53 64.86 C555.45 69.8 558.24 77.15 560.72 83.1 C563.19 89.05 565.91 95.01 568.38 100.58 C570.86 106.15 573.18 111.35 575.57 116.54 C577.97 121.73 580.37 126.8 582.76 131.74 C585.16 136.68 587.55 141.75 589.95 146.18 C592.35 150.61 594.94 154.92 597.14 158.34 C599.33 161.76 601.33 164.55 603.13 166.7 C604.93 168.85 606.52 170.12 607.92 171.26 C609.32 172.4 610.68 173.03 611.52 173.54 C612.35 174.05 612.71 174.17 612.95 174.3" stroke="#000000" stroke-dasharray="4 3"/>
<path d="M496.5 22.3 C496.98 22.38 498.5 22.25 499.38 22.76 C500.25 23.26 501.25 22.88 501.77 25.34 C502.29 27.8 502.25 32.56 502.49 37.5 C502.73 42.44 503.01 48.65 503.21 54.98 C503.41 61.31 503.53 68.91 503.69 75.5 C503.85 82.09 503.97 89.69 504.17 94.5 C504.37 99.31 504.57 101.57 504.89 104.38 C505.21 107.19 505.55 107.39 506.08 111.37 C506.62 115.35 507.48 123.33 508.12 128.24 C508.76 133.16 509.18 137.14 509.92 140.86 C510.66 144.58 511.6 147.93 512.55 150.59 C513.51 153.25 514.63 155.27 515.67 156.82 C516.71 158.37 516.71 158.57 518.78 159.86 C520.86 161.15 524.5 163.28 528.13 164.57 C531.76 165.86 536.24 166.85 540.59 167.61 C544.94 168.37 549.61 168.68 554.25 169.13 C558.88 169.59 562.03 169.87 568.38 170.35 C574.73 170.83 588.35 171.74 592.35 172.02" stroke="#1010ff" stroke-dasharray="4 3"/>
<path d="M499.5 22.3 C499.63 24.83 500.07 32.05 500.33 37.5 C500.59 42.95 500.87 47.89 501.05 54.98 C501.23 62.07 501.29 72.71 501.41 80.06 C501.53 87.41 501.63 92.47 501.77 99.06 C501.91 105.65 502.09 112.87 502.25 119.58 C502.41 126.29 502.59 133.01 502.73 139.34 C502.87 145.67 502.97 151.75 503.09 157.58 C503.21 163.41 503.39 171.51 503.45 174.3" stroke="#3c9c34" stroke-dasharray="4 3"/>
</g>
<rect x="621.3" y="26.1" width="59.1" height="50.7" fill="#fff" stroke="#8a8a8a" stroke-width="0.6"/>
<line x1="621.3" y1="33.3" x2="680.4" y2="33.3" stroke="#8a8a8a" stroke-width="0.6"/>
<text x="650.85" y="31.75" font-size="5.45" font-weight="bold" text-anchor="middle">Full Arc Dose Porfiles</text>
<line x1="628.8" y1="38.19" x2="641.6" y2="38.19" stroke="#9a9a9a" stroke-width="1.05"/>
<text x="642.8" y="40.14" font-size="5.45" fill="#262626">4-field IMPT</text>
<line x1="628.8" y1="45.17" x2="641.6" y2="45.17" stroke="#9a9a9a" stroke-width="1.05" stroke-dasharray="2.6 1.9"/>
<text x="642.8" y="47.12" font-size="5.45" fill="#262626">SpeleoFilter</text>
<line x1="628.8" y1="52.16" x2="641.6" y2="52.16" stroke="#f04848" stroke-width="1.05"/>
<text x="642.8" y="54.11" font-size="5.45" fill="#262626">Target</text>
<line x1="628.8" y1="59.14" x2="641.6" y2="59.14" stroke="#404040" stroke-width="1.05"/>
<text x="642.8" y="61.09" font-size="5.45" fill="#262626">Ring 10mm</text>
<line x1="628.8" y1="66.12" x2="641.6" y2="66.12" stroke="#4040f0" stroke-width="1.05"/>
<text x="642.8" y="68.08" font-size="5.45" fill="#262626">Body</text>
<line x1="628.8" y1="73.11" x2="641.6" y2="73.11" stroke="#50a850" stroke-width="1.05"/>
<text x="642.8" y="75.06" font-size="5.45" fill="#262626">Skin</text>
<rect x="497.2" y="207.35" width="186.2" height="152.05" fill="none" stroke="#b4b4b4" stroke-width="0.9"/>
<line x1="497.2" y1="359.4" x2="497.2" y2="357.8" stroke="#b4b4b4" stroke-width="0.6"/>
<line x1="497.2" y1="207.35" x2="497.2" y2="208.95" stroke="#b4b4b4" stroke-width="0.6"/>
<text x="497.2" y="369.05" font-size="7" text-anchor="middle" class="t">0</text>
<line x1="528.23" y1="359.4" x2="528.23" y2="357.8" stroke="#b4b4b4" stroke-width="0.6"/>
<line x1="528.23" y1="207.35" x2="528.23" y2="208.95" stroke="#b4b4b4" stroke-width="0.6"/>
<text x="528.23" y="369.05" font-size="7" text-anchor="middle" class="t">13</text>
<line x1="559.27" y1="359.4" x2="559.27" y2="357.8" stroke="#b4b4b4" stroke-width="0.6"/>
<line x1="559.27" y1="207.35" x2="559.27" y2="208.95" stroke="#b4b4b4" stroke-width="0.6"/>
<text x="559.27" y="369.05" font-size="7" text-anchor="middle" class="t">26</text>
<line x1="590.3" y1="359.4" x2="590.3" y2="357.8" stroke="#b4b4b4" stroke-width="0.6"/>
<line x1="590.3" y1="207.35" x2="590.3" y2="208.95" stroke="#b4b4b4" stroke-width="0.6"/>
<text x="590.3" y="369.05" font-size="7" text-anchor="middle" class="t">39</text>
<line x1="621.33" y1="359.4" x2="621.33" y2="357.8" stroke="#b4b4b4" stroke-width="0.6"/>
<line x1="621.33" y1="207.35" x2="621.33" y2="208.95" stroke="#b4b4b4" stroke-width="0.6"/>
<text x="621.33" y="369.05" font-size="7" text-anchor="middle" class="t">52</text>
<line x1="652.37" y1="359.4" x2="652.37" y2="357.8" stroke="#b4b4b4" stroke-width="0.6"/>
<line x1="652.37" y1="207.35" x2="652.37" y2="208.95" stroke="#b4b4b4" stroke-width="0.6"/>
<text x="652.37" y="369.05" font-size="7" text-anchor="middle" class="t">65</text>
<line x1="497.2" y1="359.4" x2="498.8" y2="359.4" stroke="#b4b4b4" stroke-width="0.6"/>
<line x1="683.4" y1="359.4" x2="681.8" y2="359.4" stroke="#b4b4b4" stroke-width="0.6"/>
<text x="494.6" y="361.9" font-size="7" text-anchor="end" class="t">0</text>
<line x1="497.2" y1="328.99" x2="498.8" y2="328.99" stroke="#b4b4b4" stroke-width="0.6"/>
<line x1="683.4" y1="328.99" x2="681.8" y2="328.99" stroke="#b4b4b4" stroke-width="0.6"/>
<text x="494.6" y="331.49" font-size="7" text-anchor="end" class="t">20</text>
<line x1="497.2" y1="298.58" x2="498.8" y2="298.58" stroke="#b4b4b4" stroke-width="0.6"/>
<line x1="683.4" y1="298.58" x2="681.8" y2="298.58" stroke="#b4b4b4" stroke-width="0.6"/>
<text x="494.6" y="301.08" font-size="7" text-anchor="end" class="t">40</text>
<line x1="497.2" y1="268.17" x2="498.8" y2="268.17" stroke="#b4b4b4" stroke-width="0.6"/>
<line x1="683.4" y1="268.17" x2="681.8" y2="268.17" stroke="#b4b4b4" stroke-width="0.6"/>
<text x="494.6" y="270.67" font-size="7" text-anchor="end" class="t">60</text>
<line x1="497.2" y1="237.76" x2="498.8" y2="237.76" stroke="#b4b4b4" stroke-width="0.6"/>
<line x1="683.4" y1="237.76" x2="681.8" y2="237.76" stroke="#b4b4b4" stroke-width="0.6"/>
<text x="494.6" y="240.26" font-size="7" text-anchor="end" class="t">80</text>
<line x1="497.2" y1="207.35" x2="498.8" y2="207.35" stroke="#b4b4b4" stroke-width="0.6"/>
<line x1="683.4" y1="207.35" x2="681.8" y2="207.35" stroke="#b4b4b4" stroke-width="0.6"/>
<text x="494.6" y="209.85" font-size="7" text-anchor="end" class="t">100</text>
<text x="590.3" y="378.7" font-size="8.05" text-anchor="middle">Dose (Gy)</text>
<text transform="translate(478.4 283.38) rotate(-90)" font-size="8.05" text-anchor="middle">Percent volume (%)</text>
<g fill="none" stroke-width="1.05" stroke-linejoin="round">
<path d="M497.2 207.35 C497.2 217.49 497.16 252.96 497.2 268.17 C497.24 283.37 497.24 292.8 497.44 298.58 C497.64 304.36 497.64 301.85 498.39 302.84 C499.15 303.83 500.1 303.6 501.97 304.51 C503.84 305.42 507.07 307.17 509.61 308.31 C512.16 309.45 514.75 310.11 517.25 311.35 C519.76 312.59 522.42 313.78 524.65 315.76 C526.88 317.74 528.87 320.48 530.62 323.21 C532.37 325.95 533.64 329.8 535.16 332.18 C536.67 334.57 537.7 336.01 539.69 337.5 C541.68 339 544.11 339.91 547.09 341.15 C550.08 342.4 554.37 343.81 557.6 344.96 C560.82 346.1 563.6 347.36 566.43 348 C569.25 348.63 572.71 348.5 574.54 348.76 C576.37 349.01 572.75 349.06 577.41 349.52 C582.06 349.97 594.52 350.99 602.47 351.49 C610.43 352 620.98 352.18 625.15 352.56 C629.33 352.94 626.82 352.89 627.54 353.77 C628.26 354.66 628.57 356.94 629.45 357.88 C630.33 358.82 632.23 359.15 632.79 359.4" stroke="#1010ff"/>
<path d="M497.2 207.35 C497.2 217.49 497.18 250.43 497.2 268.17 C497.22 285.91 497.2 305.6 497.32 313.78 C497.44 321.97 496.62 315.94 497.92 317.28 C499.21 318.63 502.61 320.1 505.08 321.84 C507.54 323.59 510.21 325.29 512.72 327.77 C515.22 330.26 517.61 333.75 520.12 336.74 C522.62 339.73 526.01 343.23 527.76 345.72 C529.51 348.2 528.63 350.4 530.62 351.65 C532.61 352.89 536.67 352.53 539.69 353.17 C542.72 353.8 546.42 354.51 548.76 355.45 C551.11 356.38 552.82 358.13 553.78 358.79 C554.73 359.45 554.37 359.3 554.49 359.4" stroke="#3c9c34"/>
<path d="M497.2 207.35 C497.3 207.35 496.92 207.22 497.8 207.35 C498.67 207.48 500.88 207.5 502.45 208.11 C504.02 208.72 504.84 209.93 507.23 211 C509.61 212.06 513.59 213.51 516.77 214.5 C519.96 215.48 523.14 216.07 526.32 216.93 C529.51 217.79 533.21 218.55 535.87 219.67 C538.54 220.78 540.21 221.9 542.32 223.62 C544.43 225.34 546.93 227.62 548.52 230.01 C550.12 232.39 550.79 235.28 551.87 237.91 C552.94 240.55 553.38 242.12 554.97 245.82 C556.56 249.52 559.31 255.6 561.42 260.11 C563.52 264.62 565.51 267.92 567.62 272.88 C569.73 277.85 571.6 284.26 574.07 289.91 C576.53 295.56 579.64 300.91 582.42 306.79 C585.21 312.67 587.95 319.33 590.78 325.19 C593.6 331.04 597.1 337.45 599.37 341.91 C601.64 346.37 602.71 349.44 604.38 351.95 C606.06 354.46 607.45 355.73 609.4 356.97 C611.35 358.21 614.97 358.99 616.08 359.4" stroke="#000000"/>
<path d="M497.2 207.35 C514.9 207.35 585.33 207.15 603.43 207.35 C621.53 207.55 605.02 207.93 605.82 208.57 C606.61 209.2 607.13 209.66 608.2 211.15 C609.28 212.65 610.87 215.51 612.26 217.54 C613.65 219.56 614.97 221.36 616.56 223.32 C618.15 225.27 620.42 226.33 621.81 229.25 C623.2 232.16 624.08 236.34 624.91 240.8 C625.75 245.26 626.39 251.44 626.82 256.01 C627.26 260.57 627.34 258.54 627.54 268.17 C627.74 277.8 627.78 300.61 628.02 313.78 C628.26 326.96 628.65 340.39 628.97 347.24 C629.29 354.08 629.29 352.81 629.93 354.84 C630.56 356.87 632.31 358.64 632.79 359.4" stroke="#ff1a1a"/>
<path d="M497.2 207.35 C514.9 207.35 585.33 207.15 603.43 207.35 C621.53 207.55 605.02 207.93 605.82 208.57 C606.61 209.2 607.13 209.66 608.2 211.15 C609.28 212.65 610.87 215.51 612.26 217.54 C613.65 219.56 614.97 221.36 616.56 223.32 C618.15 225.27 620.42 226.33 621.81 229.25 C623.2 232.16 624.08 236.34 624.91 240.8 C625.75 245.26 626.39 251.44 626.82 256.01 C627.26 260.57 627.34 258.54 627.54 268.17 C627.74 277.8 627.82 300.61 628.02 313.78 C628.22 326.96 628.46 340.39 628.73 347.24 C629.01 354.08 629.13 352.81 629.69 354.84 C630.25 356.87 631.68 358.64 632.08 359.4" stroke="#ff1a1a" stroke-dasharray="4 3"/>
<path d="M497.2 207.35 C497.32 207.48 497.04 207.1 497.92 208.11 C498.79 209.12 500.34 211.63 502.45 213.43 C504.56 215.23 507.62 216.93 510.57 218.91 C513.51 220.88 516.97 223.19 520.12 225.29 C523.26 227.4 526.28 229.42 529.43 231.53 C532.57 233.63 536.31 235.91 538.98 237.91 C541.64 239.91 543.27 241.41 545.42 243.54 C547.57 245.67 549.76 247.92 551.87 250.68 C553.98 253.45 556.24 256.94 558.07 260.11 C559.9 263.28 561.1 265.33 562.85 269.69 C564.6 274.05 567.26 282.89 568.58 286.26 C569.89 289.63 568.97 285.93 570.73 289.91 C572.48 293.89 576.3 303.98 579.08 310.14 C581.87 316.29 584.65 321.56 587.44 326.86 C590.22 332.16 593.28 337.73 595.79 341.91 C598.3 346.1 600.76 349.72 602.47 351.95 C604.19 354.18 604.9 354.31 606.06 355.29 C607.21 356.28 608.44 357.2 609.4 357.88 C610.35 358.56 611.39 359.15 611.78 359.4" stroke="#000000" stroke-dasharray="4 3"/>
<path d="M497.2 207.35 C497.2 217.49 497.16 252.96 497.2 268.17 C497.24 283.37 497.24 292.8 497.44 298.58 C497.64 304.36 497.64 301.85 498.39 302.84 C499.15 303.83 500.1 303.52 501.97 304.51 C503.84 305.5 507.58 307.15 509.61 308.77 C511.64 310.39 512.4 311.58 514.15 314.24 C515.9 316.9 518.13 321.74 520.12 324.73 C522.11 327.72 524.1 330.05 526.08 332.18 C528.07 334.31 529.31 335.76 532.05 337.5 C534.8 339.25 538.78 341.31 542.56 342.67 C546.34 344.04 551.23 344.96 554.73 345.72 C558.23 346.48 562.09 346.98 563.56 347.24" stroke="#1010ff" stroke-dasharray="4 3"/>
<path d="M497.2 207.35 C497.2 217.49 497.16 253.73 497.2 268.17 C497.24 282.61 497.12 289.2 497.44 294.02 C497.76 298.83 497.84 295.41 499.11 297.06 C500.38 298.71 503.33 301.27 505.08 303.9 C506.83 306.54 508.1 309.15 509.61 312.87 C511.13 316.6 512.88 321.03 514.15 326.25 C515.42 331.47 516.1 339.68 517.25 344.19 C518.41 348.71 519.96 350.91 521.07 353.32 C522.19 355.73 523.46 357.75 523.94 358.64" stroke="#3c9c34" stroke-dasharray="4 3"/>
</g>
<rect x="622.15" y="212.4" width="58.45" height="49.6" fill="#fff" stroke="#8a8a8a" stroke-width="0.6"/>
<line x1="622.15" y1="220.5" x2="680.6" y2="220.5" stroke="#8a8a8a" stroke-width="0.6"/>
<text x="651.38" y="218.95" font-size="5.27" font-weight="bold" text-anchor="middle">Half Arc Dose Profiles</text>
<line x1="630" y1="225.22" x2="642.8" y2="225.22" stroke="#9a9a9a" stroke-width="1.05"/>
<text x="644" y="227.17" font-size="5.45" fill="#262626">3-field IMPT</text>
<line x1="630" y1="231.88" x2="642.8" y2="231.88" stroke="#9a9a9a" stroke-width="1.05" stroke-dasharray="2.6 1.9"/>
<text x="644" y="233.82" font-size="5.45" fill="#262626">SpeleoFilter</text>
<line x1="630" y1="238.53" x2="642.8" y2="238.53" stroke="#f04848" stroke-width="1.05"/>
<text x="644" y="240.47" font-size="5.45" fill="#262626">Target</text>
<line x1="630" y1="245.18" x2="642.8" y2="245.18" stroke="#404040" stroke-width="1.05"/>
<text x="644" y="247.12" font-size="5.45" fill="#262626">Ring 10mm</text>
<line x1="630" y1="251.82" x2="642.8" y2="251.82" stroke="#4040f0" stroke-width="1.05"/>
<text x="644" y="253.77" font-size="5.45" fill="#262626">Body</text>
<line x1="630" y1="258.48" x2="642.8" y2="258.48" stroke="#50a850" stroke-width="1.05"/>
<text x="644" y="260.43" font-size="5.45" fill="#262626">Skin</text>
<rect x="496.2" y="392.6" width="186.15" height="152.5" fill="none" stroke="#b4b4b4" stroke-width="0.9"/>
<line x1="496.2" y1="545.1" x2="496.2" y2="543.5" stroke="#b4b4b4" stroke-width="0.6"/>
<line x1="496.2" y1="392.6" x2="496.2" y2="394.2" stroke="#b4b4b4" stroke-width="0.6"/>
<text x="496.2" y="554.75" font-size="7" text-anchor="middle" class="t">0</text>
<line x1="527.23" y1="545.1" x2="527.23" y2="543.5" stroke="#b4b4b4" stroke-width="0.6"/>
<line x1="527.23" y1="392.6" x2="527.23" y2="394.2" stroke="#b4b4b4" stroke-width="0.6"/>
<text x="527.23" y="554.75" font-size="7" text-anchor="middle" class="t">13</text>
<line x1="558.25" y1="545.1" x2="558.25" y2="543.5" stroke="#b4b4b4" stroke-width="0.6"/>
<line x1="558.25" y1="392.6" x2="558.25" y2="394.2" stroke="#b4b4b4" stroke-width="0.6"/>
<text x="558.25" y="554.75" font-size="7" text-anchor="middle" class="t">26</text>
<line x1="589.27" y1="545.1" x2="589.27" y2="543.5" stroke="#b4b4b4" stroke-width="0.6"/>
<line x1="589.27" y1="392.6" x2="589.27" y2="394.2" stroke="#b4b4b4" stroke-width="0.6"/>
<text x="589.27" y="554.75" font-size="7" text-anchor="middle" class="t">39</text>
<line x1="620.3" y1="545.1" x2="620.3" y2="543.5" stroke="#b4b4b4" stroke-width="0.6"/>
<line x1="620.3" y1="392.6" x2="620.3" y2="394.2" stroke="#b4b4b4" stroke-width="0.6"/>
<text x="620.3" y="554.75" font-size="7" text-anchor="middle" class="t">52</text>
<line x1="651.33" y1="545.1" x2="651.33" y2="543.5" stroke="#b4b4b4" stroke-width="0.6"/>
<line x1="651.33" y1="392.6" x2="651.33" y2="394.2" stroke="#b4b4b4" stroke-width="0.6"/>
<text x="651.33" y="554.75" font-size="7" text-anchor="middle" class="t">65</text>
<line x1="496.2" y1="545.1" x2="497.8" y2="545.1" stroke="#b4b4b4" stroke-width="0.6"/>
<line x1="682.35" y1="545.1" x2="680.75" y2="545.1" stroke="#b4b4b4" stroke-width="0.6"/>
<text x="493.6" y="547.6" font-size="7" text-anchor="end" class="t">0</text>
<line x1="496.2" y1="514.6" x2="497.8" y2="514.6" stroke="#b4b4b4" stroke-width="0.6"/>
<line x1="682.35" y1="514.6" x2="680.75" y2="514.6" stroke="#b4b4b4" stroke-width="0.6"/>
<text x="493.6" y="517.1" font-size="7" text-anchor="end" class="t">20</text>
<line x1="496.2" y1="484.1" x2="497.8" y2="484.1" stroke="#b4b4b4" stroke-width="0.6"/>
<line x1="682.35" y1="484.1" x2="680.75" y2="484.1" stroke="#b4b4b4" stroke-width="0.6"/>
<text x="493.6" y="486.6" font-size="7" text-anchor="end" class="t">40</text>
<line x1="496.2" y1="453.6" x2="497.8" y2="453.6" stroke="#b4b4b4" stroke-width="0.6"/>
<line x1="682.35" y1="453.6" x2="680.75" y2="453.6" stroke="#b4b4b4" stroke-width="0.6"/>
<text x="493.6" y="456.1" font-size="7" text-anchor="end" class="t">60</text>
<line x1="496.2" y1="423.1" x2="497.8" y2="423.1" stroke="#b4b4b4" stroke-width="0.6"/>
<line x1="682.35" y1="423.1" x2="680.75" y2="423.1" stroke="#b4b4b4" stroke-width="0.6"/>
<text x="493.6" y="425.6" font-size="7" text-anchor="end" class="t">80</text>
<line x1="496.2" y1="392.6" x2="497.8" y2="392.6" stroke="#b4b4b4" stroke-width="0.6"/>
<line x1="682.35" y1="392.6" x2="680.75" y2="392.6" stroke="#b4b4b4" stroke-width="0.6"/>
<text x="493.6" y="395.1" font-size="7" text-anchor="end" class="t">100</text>
<text x="589.27" y="564.4" font-size="8.05" text-anchor="middle">Dose (Gy)</text>
<text transform="translate(478.4 468.85) rotate(-90)" font-size="8.05" text-anchor="middle">Percent volume (%)</text>
<g fill="none" stroke-width="1.05" stroke-linejoin="round">
<path d="M496.2 392.6 C496.2 402.77 496.16 435.81 496.2 453.6 C496.24 471.39 496.08 490.78 496.44 499.35 C496.8 507.92 496.28 503.49 498.35 504.99 C500.42 506.49 504.59 507.31 508.85 508.35 C513.1 509.39 518.87 510.25 523.88 511.25 C528.9 512.24 535.7 513.28 538.92 514.3 C542.14 515.31 541.5 515.85 543.21 517.35 C544.93 518.84 546.91 521.41 549.18 523.29 C551.45 525.17 554.07 527.13 556.82 528.63 C559.56 530.13 562.82 531.38 565.65 532.29 C568.47 533.21 570.54 533.61 573.76 534.12 C576.98 534.63 578.89 534.83 584.98 535.34 C591.06 535.85 603.83 536.69 610.28 537.17 C616.72 537.65 620.86 537.42 623.64 538.24 C626.43 539.05 626.03 540.98 626.98 542.05 C627.94 543.12 628.29 544.13 629.37 544.64 C630.44 545.15 632.75 545.02 633.43 545.1" stroke="#1010ff"/>
<path d="M496.2 392.6 C496.2 402.77 496.18 433.27 496.2 453.6 C496.22 473.93 496.12 504.03 496.32 514.6 C496.52 525.17 496.3 516.33 497.39 517.04 C498.49 517.75 500.22 518.08 502.88 518.87 C505.55 519.66 509.88 520.27 513.38 521.77 C516.88 523.27 520.9 526.37 523.88 527.87 C526.87 529.37 528.78 529.77 531.28 530.76 C533.79 531.76 536.65 532.57 538.92 533.82 C541.19 535.06 542.9 537.12 544.89 538.24 C546.87 539.36 548.86 539.64 550.85 540.52 C552.84 541.41 555.66 542.81 556.82 543.58 C557.97 544.34 557.61 544.85 557.77 545.1" stroke="#3c9c34"/>
<path d="M496.2 392.6 C496.84 392.91 498.59 393.18 500.02 394.43 C501.45 395.68 502.64 398.09 504.79 400.07 C506.94 402.06 510.52 404.75 512.91 406.33 C515.29 407.9 517.24 408.33 519.11 409.53 C520.98 410.72 522.25 412.43 524.12 413.49 C525.99 414.56 528.22 414.61 530.33 415.93 C532.44 417.25 534.66 419.97 536.77 421.42 C538.88 422.87 540.63 423.05 542.98 424.62 C545.32 426.2 548.47 428.77 550.85 430.88 C553.24 432.99 555.15 434.89 557.3 437.28 C559.44 439.67 561.87 442.57 563.74 445.21 C565.61 447.86 566.92 449.46 568.51 453.14 C570.1 456.83 571.93 463.97 573.29 467.33 C574.64 470.68 574.68 468.9 576.63 473.27 C578.58 477.64 582.19 486.85 584.98 493.56 C587.76 500.26 590.79 507.69 593.33 513.53 C595.88 519.38 598.26 524.72 600.25 528.63 C602.24 532.54 603.59 534.63 605.26 537.02 C606.94 539.41 608.61 541.67 610.28 542.97 C611.95 544.26 614.29 544.44 615.29 544.8 C616.28 545.15 616.08 545.05 616.24 545.1" stroke="#000000"/>
<path d="M496.2 392.6 C512.59 392.6 576.79 392.24 594.53 392.6 C612.27 392.96 600.25 393.72 602.64 394.74 C605.03 395.75 607.41 397.38 608.84 398.7 C610.28 400.02 610.12 400.63 611.23 402.67 C612.34 404.7 614.02 407.49 615.53 410.9 C617.04 414.31 618.91 418.53 620.3 423.1 C621.69 427.68 623.08 434.39 623.88 438.35 C624.68 442.31 624.75 439.26 625.07 446.89 C625.39 454.51 625.51 470.27 625.79 484.1 C626.07 497.93 626.35 520.45 626.74 529.85 C627.14 539.25 627.02 537.98 628.18 540.52 C629.33 543.07 632.75 544.34 633.66 545.1" stroke="#ff1a1a"/>
<path d="M496.2 392.6 C512.59 392.6 576.94 392.35 594.53 392.6 C612.11 392.85 599.38 393.24 601.68 394.12 C603.99 395.01 606.7 396.67 608.37 397.94 C610.04 399.21 610.52 399.59 611.71 401.75 C612.9 403.91 614.1 407.34 615.53 410.9 C616.96 414.46 618.91 418.53 620.3 423.1 C621.69 427.68 623 434.39 623.88 438.35 C624.75 442.31 625.11 439.26 625.55 446.89 C625.99 454.51 626.11 470.27 626.5 484.1 C626.9 497.93 627.46 520.45 627.94 529.85 C628.41 539.25 628.26 537.98 629.37 540.52 C630.48 543.07 633.74 544.34 634.62 545.1" stroke="#ff1a1a" stroke-dasharray="4 3"/>
<path d="M496.2 392.6 C496.84 393.57 497.75 395.98 500.02 398.39 C502.29 400.81 506.62 404.16 509.8 407.09 C512.99 410.01 515.97 413.01 519.11 415.93 C522.25 418.86 525.47 421.6 528.66 424.62 C531.84 427.65 535.02 430.39 538.2 434.08 C541.39 437.77 544.57 442.49 547.75 446.74 C550.93 450.98 554.99 456.37 557.3 459.55 C559.6 462.72 559.76 462.37 561.59 465.8 C563.42 469.23 565.77 474.67 568.27 480.13 C570.78 485.6 573.84 493 576.63 498.59 C579.41 504.18 582.19 509.24 584.98 513.69 C587.76 518.13 590.55 521.67 593.33 525.27 C596.12 528.88 598.86 532.54 601.68 535.34 C604.51 538.14 606.9 540.5 610.28 542.05 C613.66 543.6 619.9 544.13 621.97 544.64 C624.04 545.15 622.57 545.02 622.69 545.1" stroke="#000000" stroke-dasharray="4 3"/>
<path d="M496.2 392.6 C496.2 402.77 496.16 435.81 496.2 453.6 C496.24 471.39 496.08 490.78 496.44 499.35 C496.8 507.92 496.28 503.37 498.35 504.99 C500.42 506.62 505.35 507.81 508.85 509.11 C512.35 510.41 516.37 511.52 519.35 512.77 C522.33 514.02 524 515.08 526.75 516.58 C529.49 518.08 532.55 520.14 535.82 521.77 C539.08 523.39 542.82 524.94 546.32 526.34 C549.82 527.74 553.08 529.04 556.82 530.15 C560.56 531.27 564.14 532.16 568.75 533.05 C573.36 533.94 577.9 534.76 584.5 535.49 C591.1 536.23 602 536.97 608.37 537.48 C614.73 537.98 619.7 537.78 622.69 538.54 C625.67 539.31 625.27 541.01 626.27 542.05 C627.26 543.09 627.66 544.29 628.65 544.8 C629.65 545.3 631.64 545.05 632.23 545.1" stroke="#1010ff" stroke-dasharray="4 3"/>
<path d="M496.2 392.6 C496.2 402.77 496.18 434.79 496.2 453.6 C496.22 472.41 496.2 496.45 496.32 505.45 C496.44 514.45 495.82 506.62 496.92 507.59 C498.01 508.55 500.42 509.36 502.88 511.25 C505.35 513.13 508.97 516.61 511.71 518.87 C514.46 521.13 517.32 523.09 519.35 524.82 C521.38 526.55 522.37 527.49 523.88 529.24 C525.4 530.99 526.71 533.84 528.42 535.34 C530.13 536.84 531.68 537.12 534.15 538.24 C536.61 539.36 540.71 541.08 543.21 542.05 C545.72 543.02 547.87 543.52 549.18 544.03 C550.49 544.54 550.77 544.92 551.09 545.1" stroke="#3c9c34" stroke-dasharray="4 3"/>
</g>
<rect x="613.5" y="396.4" width="66.4" height="49.3" fill="#fff" stroke="#8a8a8a" stroke-width="0.6"/>
<line x1="613.5" y1="404.4" x2="679.9" y2="404.4" stroke="#8a8a8a" stroke-width="0.6"/>
<text x="646.7" y="402.85" font-size="5.22" font-weight="bold" text-anchor="middle">Quarter Arc Dose Profiles</text>
<line x1="624.9" y1="409.11" x2="637.7" y2="409.11" stroke="#9a9a9a" stroke-width="1.05"/>
<text x="638.9" y="411.06" font-size="5.45" fill="#262626">2-field IMPT</text>
<line x1="624.9" y1="415.72" x2="637.7" y2="415.72" stroke="#9a9a9a" stroke-width="1.05" stroke-dasharray="2.6 1.9"/>
<text x="638.9" y="417.67" font-size="5.45" fill="#262626">SpeleoFilter</text>
<line x1="624.9" y1="422.34" x2="637.7" y2="422.34" stroke="#f04848" stroke-width="1.05"/>
<text x="638.9" y="424.29" font-size="5.45" fill="#262626">Target</text>
<line x1="624.9" y1="428.96" x2="637.7" y2="428.96" stroke="#404040" stroke-width="1.05"/>
<text x="638.9" y="430.91" font-size="5.45" fill="#262626">Ring 10mm</text>
<line x1="624.9" y1="435.57" x2="637.7" y2="435.57" stroke="#4040f0" stroke-width="1.05"/>
<text x="638.9" y="437.52" font-size="5.45" fill="#262626">Body</text>
<line x1="624.9" y1="442.19" x2="637.7" y2="442.19" stroke="#50a850" stroke-width="1.05"/>
<text x="638.9" y="444.14" font-size="5.45" fill="#262626">Skin</text>
</svg>
</body></html>
